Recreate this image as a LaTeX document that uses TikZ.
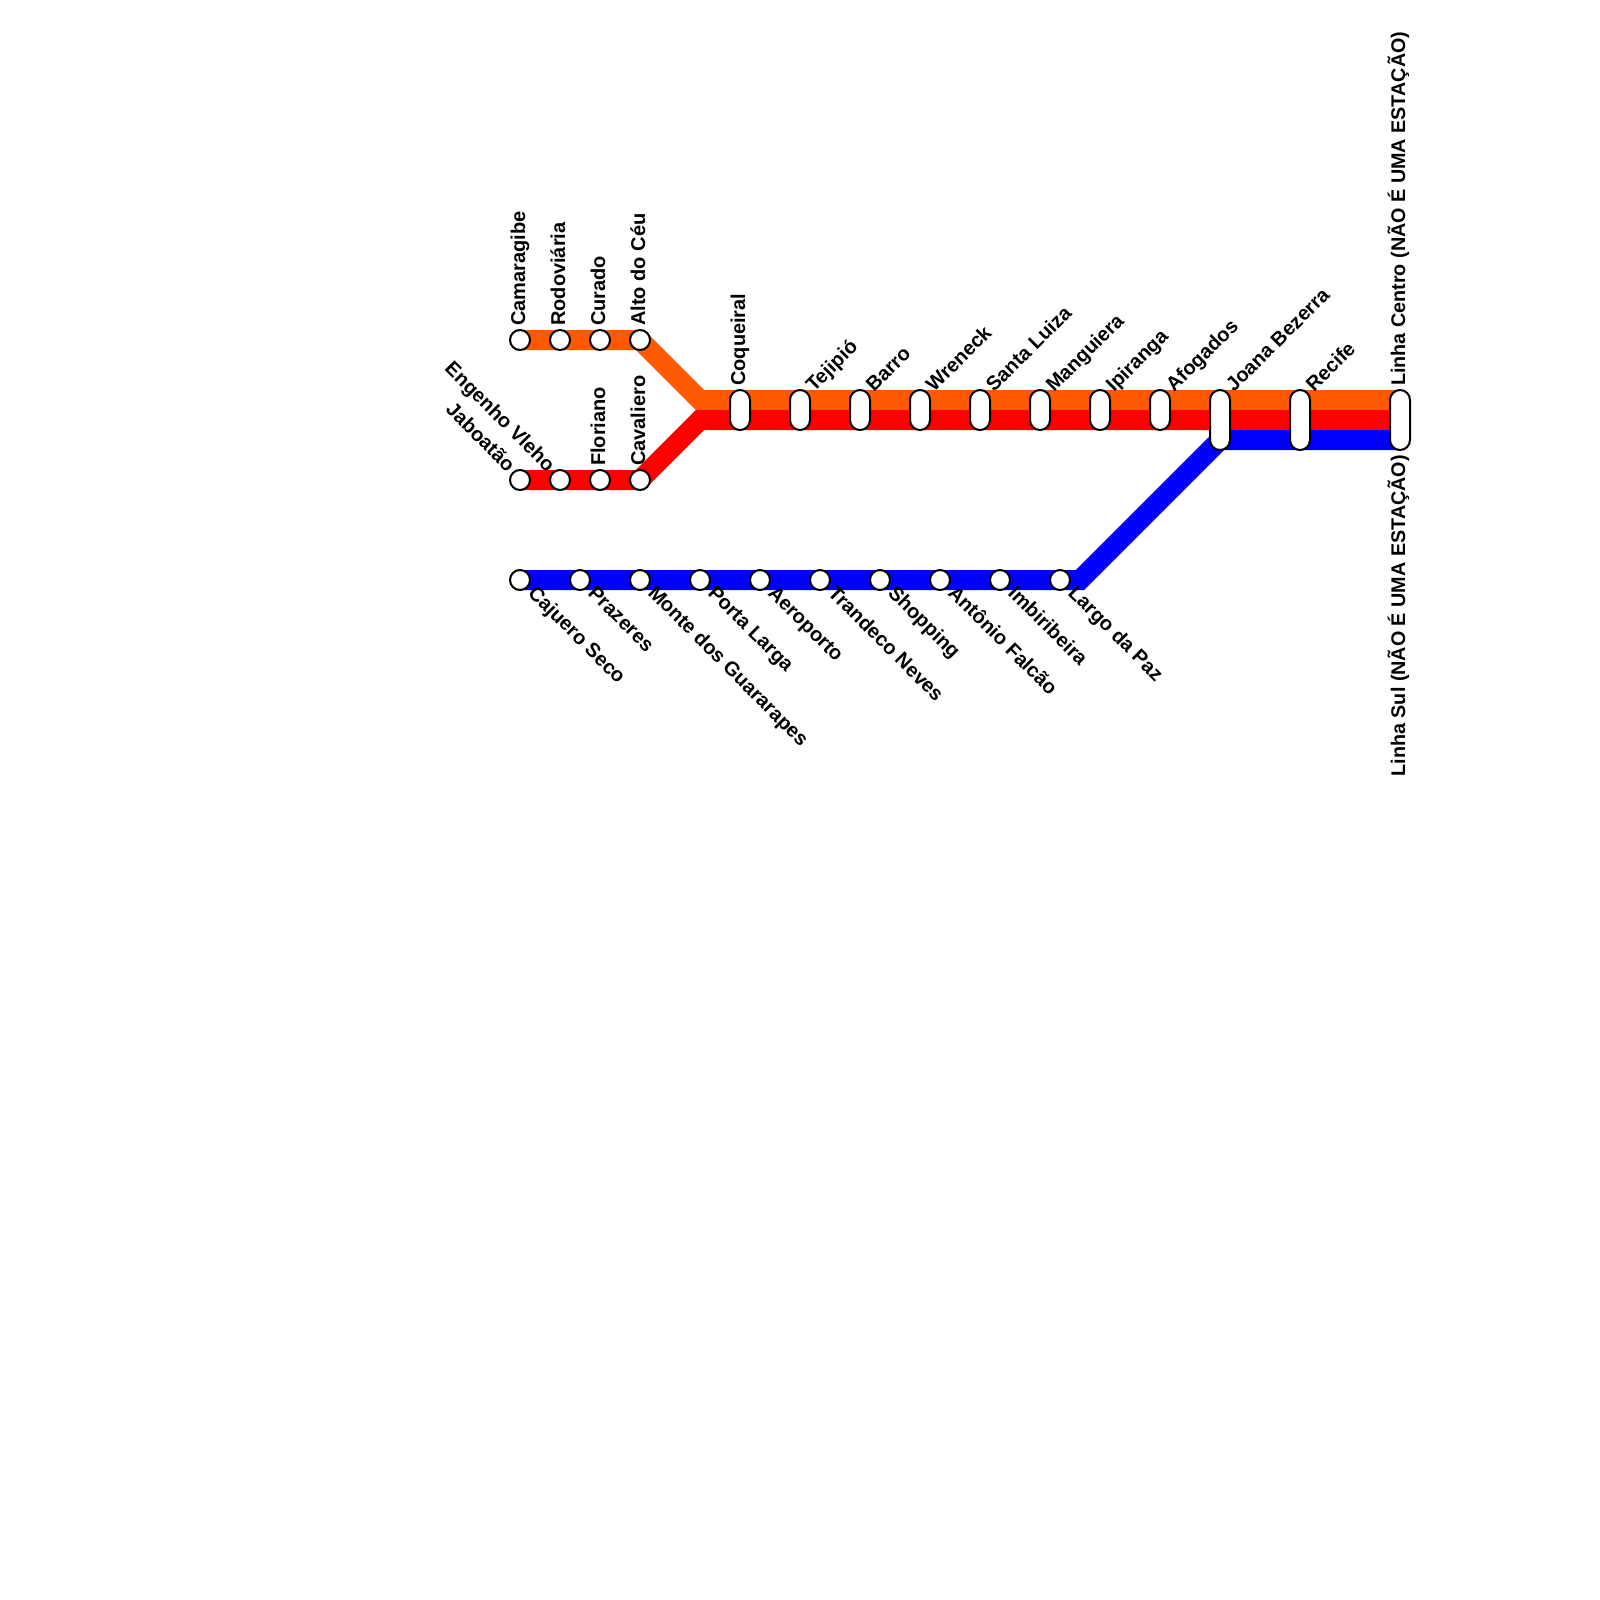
\documentclass[tikz,border=0pt]{standalone}
\usepackage{fontspec}
\setmainfont{Liberation Sans}
\definecolor{LineOrange}{RGB}{255,90,0}
\definecolor{LineRed}{RGB}{255,0,0}
\definecolor{LineBlue}{RGB}{0,0,255}
\usetikzlibrary{backgrounds}
\tikzset{
  metroline/.style={line width=20pt},
  stationdot/.style={circle, draw=black, fill=white, line width=2pt, minimum size=20pt, inner sep=0pt},
  stationpill/.style={rectangle, draw=black, fill=white, line width=2pt, rounded corners=10pt, minimum width=20pt, minimum height=#1, inner sep=0pt},
  stationlabel/.style={inner sep=0pt, font=\fontsize{20}{24}\selectfont\bfseries},
  linelabel/.style={inner sep=0pt, rotate=90, font=\fontsize{19.75}{24}\selectfont\bfseries},
  uplabel/.style={stationlabel, rotate=90, anchor=base west},
  risinglabel/.style={stationlabel, rotate=45, anchor=base west},
  fallinglabel/.style={stationlabel, rotate=-45, anchor=base west},
  backlabel/.style={stationlabel, rotate=-45, anchor=base east}
}
\begin{document}
\begin{tikzpicture}[x=1pt,y=-1pt]
\useasboundingbox (0,0) rectangle (1600,1600);

% stations
\foreach \name/\x in {camaragibe/520, rodoviaria/560, curado/600, altoceu/640}
  \node[stationdot] (\name) at (\x,340) {};
\foreach \name/\x in {jaboatao/520, engenho/560, floriano/600, cavaliero/640}
  \node[stationdot] (\name) at (\x,480) {};
\foreach \name/\x in {cajuero/520, prazeres/580, monte/640, porta/700, aeroporto/760, trandeco/820, shopping/880, antonio/940, imbiribeira/1000, largo/1060}
  \node[stationdot] (\name) at (\x,580) {};
\foreach \name/\x in {coqueiral/740, tejipio/800, barro/860, wreneck/920, santaluiza/980, manguiera/1040, ipiranga/1100, afogados/1160}
  \node[stationpill=40pt] (\name) at (\x,410) {};
\foreach \name/\x in {joana/1220, recife/1300, centro/1400}
  \node[stationpill=60pt] (\name) at (\x,420) {};

% bends and line ends
\coordinate (orangejoin) at (700,400);
\coordinate (redjoin) at (700,420);
\coordinate (bluebend) at (1080,580);
\coordinate (bluejoin) at (1220,440);
\coordinate (orangeend) at (centro.center |- orangejoin);
\coordinate (redend) at (centro.center |- redjoin);
\coordinate (blueend) at (centro.center |- bluejoin);

% lines
\begin{scope}[on background layer]
\draw[metroline, LineOrange] (camaragibe.center) -- (altoceu.center) -- (orangejoin) -- (orangeend);
\draw[metroline, LineRed] (jaboatao.center) -- (cavaliero.center) -- (redjoin) -- (redend);
\draw[metroline, LineBlue] (cajuero.center) -- (bluebend) -- (bluejoin) -- (blueend);
\end{scope}

% labels
\node[uplabel] (lcamaragibe) at (525,326) {Camaragibe};
\node[uplabel] (lrodoviaria) at (565,326) {Rodoviária};
\node[uplabel] (lcurado) at (605,326) {Curado};
\node[uplabel] (laltoceu) at (645,326) {Alto do Céu};
\node[uplabel] (lfloriano) at (605,466) {Floriano};
\node[uplabel] (lcavaliero) at (645,466) {Cavaliero};
\node[uplabel] (lcoqueiral) at (745,386) {Coqueiral};
\node[linelabel, anchor=base west] (lcentro) at (1405,386) {Linha Centro (NÃO É UMA ESTAÇÃO)};
\node[linelabel, anchor=base east] (lsul) at (1405,455) {Linha Sul (NÃO É UMA ESTAÇÃO)};
\node[backlabel] (ljaboatao) at (507,473) {Jaboatão};
\node[backlabel] (lengenho) at (547,473) {Engenho Vleho};
\foreach \name/\x/\lab in {tejipio/800/Tejipió, barro/860/Barro, wreneck/920/Wreneck, santaluiza/980/Santa Luiza, manguiera/1040/Manguiera, ipiranga/1100/Ipiranga, afogados/1160/Afogados, joana/1220/Joana Bezerra, recife/1300/Recife}
  \node[risinglabel] (l\name) at ([shift={(14,-17)}]\x,410) {\lab};
\foreach \name/\x/\lab in {cajuero/520/Cajuero Seco, prazeres/580/Prazeres, monte/640/Monte dos Guararapes, porta/700/Porta Larga, aeroporto/760/Aeroporto, trandeco/820/Trandeco Neves, shopping/880/Shopping, antonio/940/Antônio Falcão, imbiribeira/1000/Imbiribeira, largo/1060/Largo da Paz}
  \node[fallinglabel] (l\name) at ([shift={(7,14)}]\x,580) {\lab};
\end{tikzpicture}
\end{document}
